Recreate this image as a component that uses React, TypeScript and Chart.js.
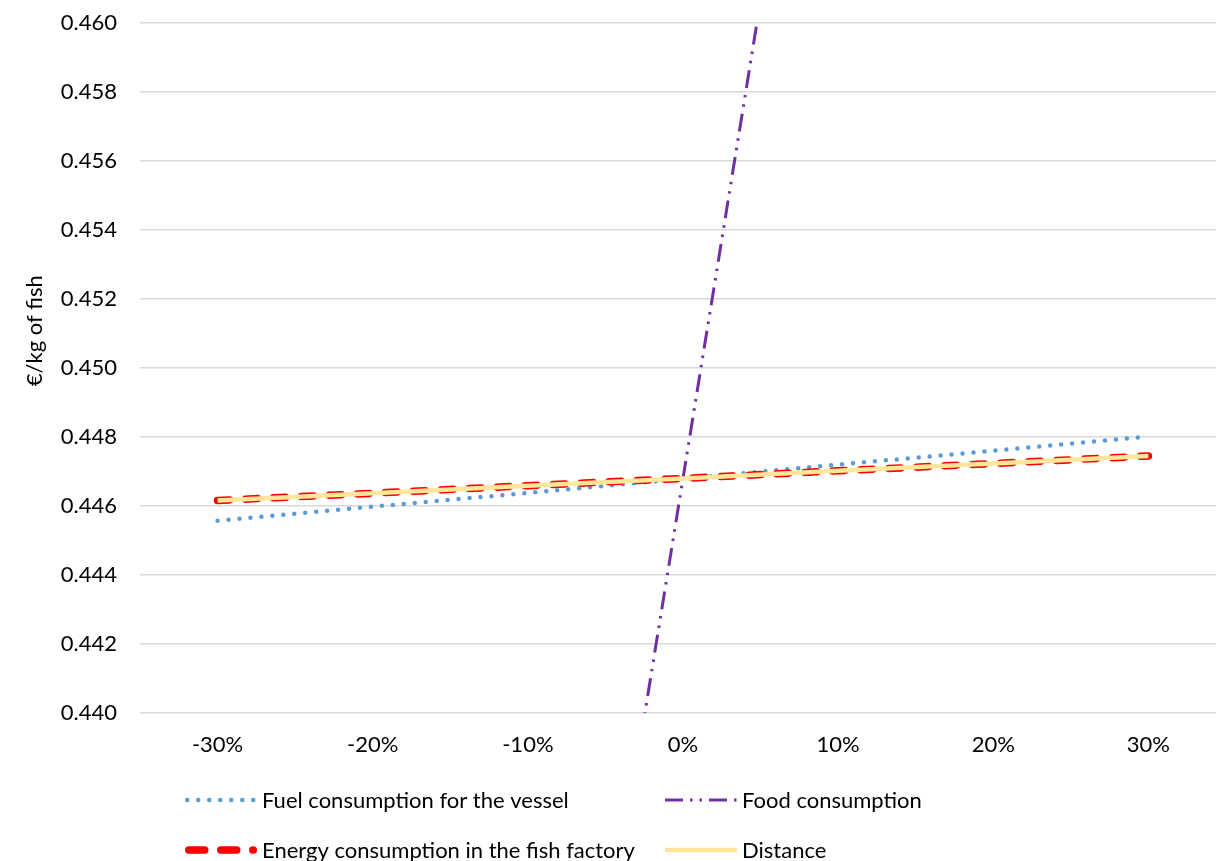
import React, { useEffect, useRef } from "react";
import { Chart, registerables } from "chart.js";

Chart.register(...registerables);

const categories = ["-30%", "-20%", "-10%", "0%", "10%", "20%", "30%"];
const fuelValues = [0.44557, 0.44598, 0.44638, 0.44679, 0.4472, 0.4476, 0.44801];
const foodValues = [0.3637, 0.3914, 0.4191, 0.4468, 0.4745, 0.5022, 0.5299];
const energyValues = [0.44616, 0.44637, 0.44659, 0.4468, 0.44702, 0.44723, 0.44745];
const distanceValues = [0.44616, 0.44637, 0.44659, 0.4468, 0.44702, 0.44723, 0.44745];
const seriesNames = [
  "Fuel consumption for the vessel",
  "Food consumption",
  "Energy consumption in the fish factory",
  "Distance",
];
const yTitle = "€/kg of fish";

const FONT = "Lato, 'Open Sans', sans-serif";
const FONT_SIZE = 22;

type LegendStyle = {
  color: string;
  width: number;
  dash: number[];
  cap: CanvasLineCap;
};

const legendStyles: LegendStyle[] = [
  { color: "#5B9BD5", width: 4.5, dash: [0, 11], cap: "round" },
  { color: "#7030A0", width: 3, dash: [18, 7, 2.5, 7, 2.5, 7], cap: "butt" },
  { color: "#FF0000", width: 7.5, dash: [16, 16], cap: "round" },
  { color: "#FFE699", width: 4.5, dash: [], cap: "butt" },
];

const customPlugin = {
  id: "customDecor",
  afterDraw(chart: any) {
    const { ctx, chartArea } = chart;
    ctx.save();
    ctx.fillStyle = "#000";
    ctx.font = `${FONT_SIZE}px ${FONT}`;
    ctx.textAlign = "center";
    ctx.textBaseline = "middle";
    const ty = chartArea.top + (chartArea.bottom - chartArea.top) * 0.446;
    ctx.translate(35, ty);
    ctx.rotate(-Math.PI / 2);
    ctx.fillText(yTitle, 0, 0);
    ctx.restore();

    const cols = [185, 665];
    const rows = [chartArea.bottom + 87, chartArea.bottom + 137];
    const sampleLen = 72;
    seriesNames.forEach((name, i) => {
      const st = legendStyles[i];
      const x0 = cols[i % 2];
      const y = rows[Math.floor(i / 2)];
      ctx.save();
      ctx.strokeStyle = st.color;
      ctx.lineWidth = st.width;
      ctx.lineCap = st.cap;
      ctx.setLineDash(st.dash);
      ctx.beginPath();
      const inset = st.cap === "round" ? st.width / 2 : 0;
      ctx.moveTo(x0 + inset, y);
      ctx.lineTo(x0 + sampleLen - inset, y);
      ctx.stroke();
      ctx.restore();
      ctx.save();
      ctx.fillStyle = "#000";
      ctx.font = `${FONT_SIZE}px ${FONT}`;
      ctx.textAlign = "left";
      ctx.textBaseline = "middle";
      ctx.fillText(name, x0 + sampleLen + 5, y + 1);
      ctx.restore();
    });
  },
};

export default function App() {
  const canvasRef = useRef<HTMLCanvasElement | null>(null);

  useEffect(() => {
    if (!canvasRef.current) return;
    const chart = new Chart(canvasRef.current, {
      type: "line",
      data: {
        labels: categories,
        datasets: [
          {
            label: seriesNames[0],
            data: fuelValues,
            borderColor: "#5B9BD5",
            borderWidth: 4.5,
            borderDash: [0, 11],
            borderCapStyle: "round",
            pointRadius: 0,
            fill: false,
            tension: 0,
            order: 4,
            clip: 0,
          },
          {
            label: seriesNames[1],
            data: foodValues,
            borderColor: "#7030A0",
            borderWidth: 3,
            borderDash: [18, 7, 2.5, 7, 2.5, 7],
            borderCapStyle: "butt",
            pointRadius: 0,
            fill: false,
            tension: 0,
            order: 3,
            clip: 0,
          },
          {
            label: seriesNames[2],
            data: energyValues,
            borderColor: "#FF0000",
            borderWidth: 7.5,
            borderDash: [12, 16],
            borderCapStyle: "round",
            pointRadius: 0,
            fill: false,
            tension: 0,
            order: 2,
            clip: 0,
          },
          {
            label: seriesNames[3],
            data: distanceValues,
            borderColor: "#FFE699",
            borderWidth: 4.5,
            pointRadius: 0,
            fill: false,
            tension: 0,
            order: 1,
            clip: 0,
          },
        ],
      } as any,
      options: {
        animation: false,
        responsive: true,
        maintainAspectRatio: false,
        layout: { padding: { top: 23, bottom: 107, left: 0, right: 0 } },
        plugins: {
          legend: { display: false },
          tooltip: { enabled: false },
          title: { display: false },
        },
        scales: {
          x: {
            type: "category",
            offset: true,
            grid: { display: false, drawTicks: false },
            border: { display: false },
            ticks: {
              color: "#000",
              font: { family: FONT, size: FONT_SIZE },
              padding: 19,
              maxRotation: 0,
              autoSkip: false,
            },
            afterFit(scale: any) {
              scale.height = 60;
              scale.paddingLeft = 0;
              scale.paddingRight = 0;
            },
          },
          y: {
            min: 0.44,
            max: 0.46,
            grid: { color: "#D9D9D9", lineWidth: 1.5, drawTicks: false },
            border: { display: false },
            ticks: {
              stepSize: 0.002,
              color: "#000",
              font: { family: FONT, size: FONT_SIZE },
              padding: 23,
              callback: (v: any) => Number(v).toFixed(3),
            },
            afterFit(scale: any) {
              scale.width = 140;
              scale.paddingTop = 0;
              scale.paddingBottom = 0;
            },
          },
        },
      } as any,
      plugins: [customPlugin],
    });
    return () => chart.destroy();
  }, []);

  return (
    <div style={{ position: "fixed", left: 0, top: 0, width: "100vw", height: "100vh", overflow: "hidden", background: "#fff" }}>
      <div style={{ position: "relative", width: 1226, height: 880 }}>
        <canvas ref={canvasRef} />
      </div>
    </div>
  );
}
